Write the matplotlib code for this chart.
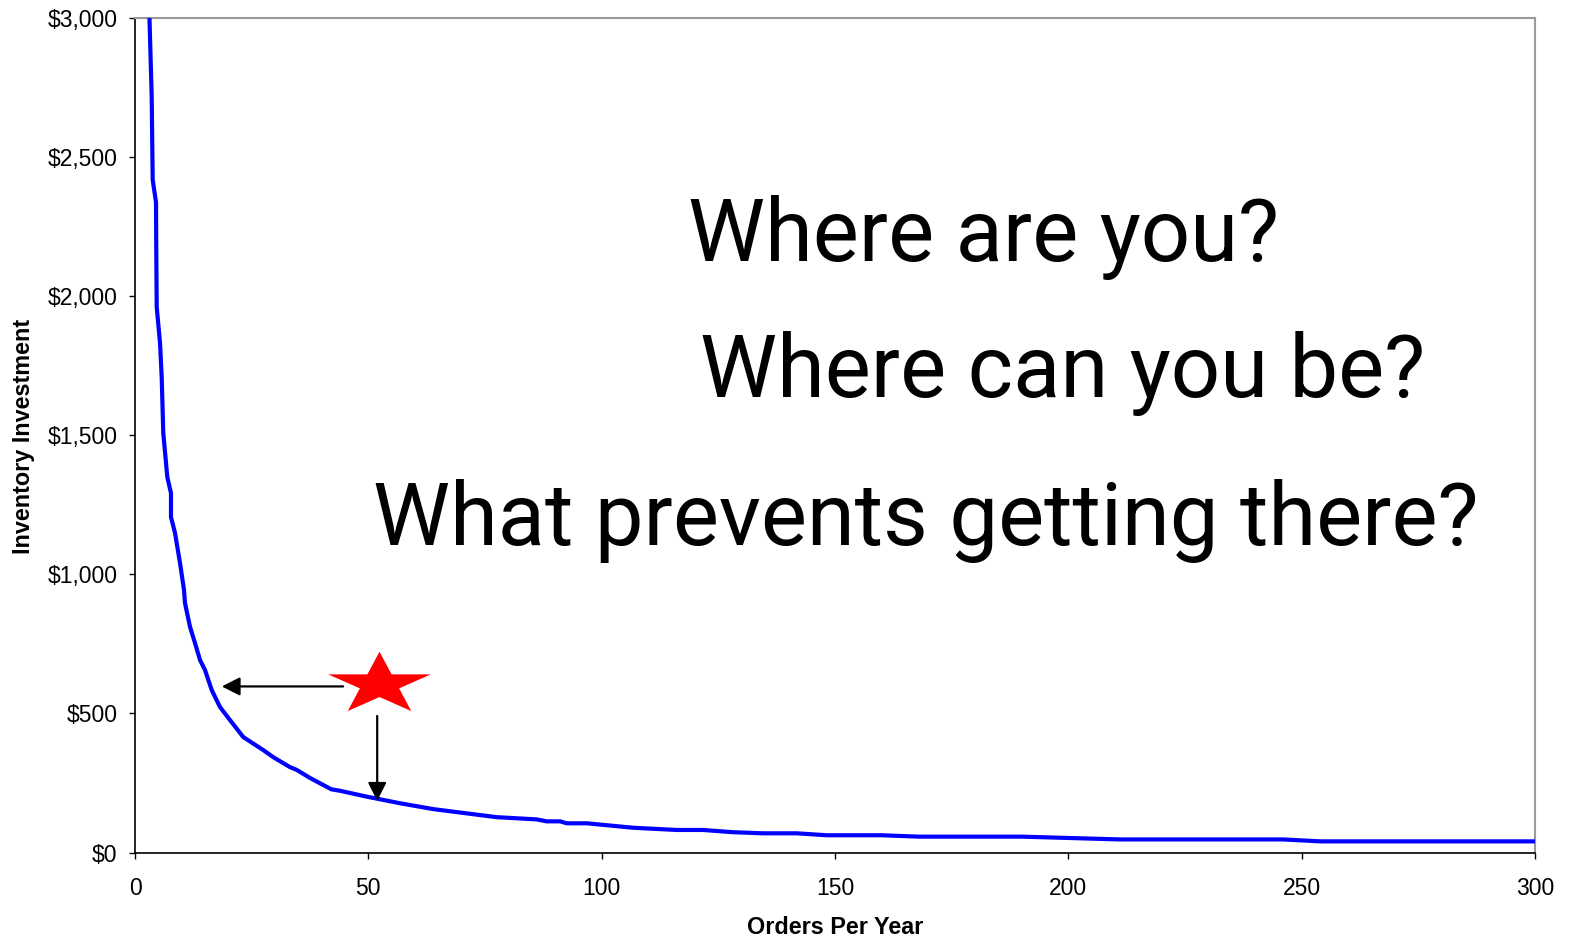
import matplotlib
matplotlib.use("Agg")
import matplotlib.pyplot as plt
import numpy as np
from matplotlib.path import Path
from matplotlib.ticker import FuncFormatter

# Inventory investment versus number of orders placed per year
orders_per_year = [3.1, 3.58, 3.79, 4.5, 4.56, 4.65, 5.36, 5.51, 5.72, 6.06,
                   6.92, 7.71, 7.71, 8.57, 9.64, 10.5, 10.71, 11.79, 12.86, 13.93,
                   15.0, 16.44, 18.21, 20.36, 23.2, 27.5, 29.6, 33.2, 34.65, 37.5,
                   42.1, 43.9, 49.6, 56.8, 63.9, 77.5, 86.1, 88.2, 91.1, 92.5,
                   96.8, 106.7, 116.1, 121.7, 128.1, 134.6, 141.8, 148.2, 160.0, 168.0,
                   190.0, 211.0, 246.0, 254.0, 300.0]
inventory_investment = [3000, 2716, 2418, 2338, 2159, 1961, 1832, 1781, 1709, 1508,
                        1350, 1292, 1206, 1149, 1041, 944, 897, 811, 753, 692,
                        656, 584, 523, 476, 415, 368, 343, 307, 297, 268,
                        227, 222, 201, 177, 156, 127, 119, 112, 112, 105,
                        105, 89, 81, 81, 73, 69, 69, 62, 62, 57,
                        57, 47, 47, 40, 40]

x_ticks = [0, 50, 100, 150, 200, 250, 300]
y_ticks = [0, 500, 1000, 1500, 2000, 2500, 3000]

questions = ["Where are you?", "Where can you be?", "What prevents getting there?"]

# current position (star) and the two ways of improving it
current_point = (52.2, 604)
arrow_left = ((44.6, 597), (18.6, 597))
arrow_down = ((51.9, 491), (51.9, 186))

W, H = 1570, 939
fig = plt.figure(figsize=(W / 100, H / 100), dpi=100)
fig.patch.set_facecolor("white")
ax = fig.add_axes([135 / W, 1 - 852.5 / H, 1400 / W, (852.5 - 18) / H])

ax.plot(orders_per_year, inventory_investment, color="#0000ff", lw=3.0,
        solid_joinstyle="round", zorder=3)

ax.set_xlim(0, 300)
ax.set_ylim(0, 3000)
ax.set_xticks(x_ticks)
ax.set_yticks(y_ticks)
ax.yaxis.set_major_formatter(FuncFormatter(lambda v, p: f"${v:,.0f}"))

tick_family = ["Liberation Sans", "DejaVu Sans"]
for lab in ax.get_xticklabels() + ax.get_yticklabels():
    lab.set_fontfamily(tick_family)
    lab.set_fontsize(16.5)
ax.tick_params(axis="both", direction="out", length=4.5, width=1.0, color="black")
ax.tick_params(axis="x", pad=13)
ax.tick_params(axis="y", pad=8)

for side in ("left", "bottom"):
    ax.spines[side].set_color("black")
    ax.spines[side].set_linewidth(1.2)
for side in ("top", "right"):
    ax.spines[side].set_color("#9a9a9a")
    ax.spines[side].set_linewidth(1.5)

label_font = dict(family=["Liberation Sans", "DejaVu Sans"], weight="bold", size=16.8)
fig.text(835 / W, 1 - 934 / H, "Orders Per Year", ha="center", va="baseline",
         **label_font)
fig.text(30.5 / W, 1 - 436 / H, "Inventory Investment", ha="center", va="baseline",
         rotation=90, rotation_mode="anchor", **label_font)

# five-pointed star, slightly flattened vertically
rx, ry, inner = 54.0, 32.8, 0.382
verts = []
for k in range(5):
    a_out = np.deg2rad(90 + 72 * k)
    a_in = np.deg2rad(126 + 72 * k)
    verts.append((rx * np.cos(a_out), ry * np.sin(a_out)))
    verts.append((rx * inner * np.cos(a_in), ry * inner * np.sin(a_in)))
verts.append(verts[0])
codes = [Path.MOVETO] + [Path.LINETO] * 9 + [Path.CLOSEPOLY]
star = Path(verts, codes)
span = np.max(np.abs(verts))
ax.plot([current_point[0]], [current_point[1]], marker=star,
        markersize=2 * span * 0.72, color="#ff0000", markeredgewidth=0,
        linestyle="none", zorder=5, clip_on=False)

arrow_style = dict(arrowstyle="-|>,head_length=0.55,head_width=0.28", color="black",
                   lw=1.6, mutation_scale=20, shrinkA=0, shrinkB=0)
for start, end in (arrow_left, arrow_down):
    ax.annotate("", xy=end, xytext=start, arrowprops=arrow_style, zorder=4)

q_font = dict(family=["Roboto", "DejaVu Sans"], size=62.5, color="black")
q_pos = [(688, 261), (700, 397), (373, 545)]
for (px, py), q in zip(q_pos, questions):
    fig.text(px / W, 1 - py / H, q, ha="left", va="baseline", **q_font)

fig.savefig("out.png", dpi=100, facecolor="white")
